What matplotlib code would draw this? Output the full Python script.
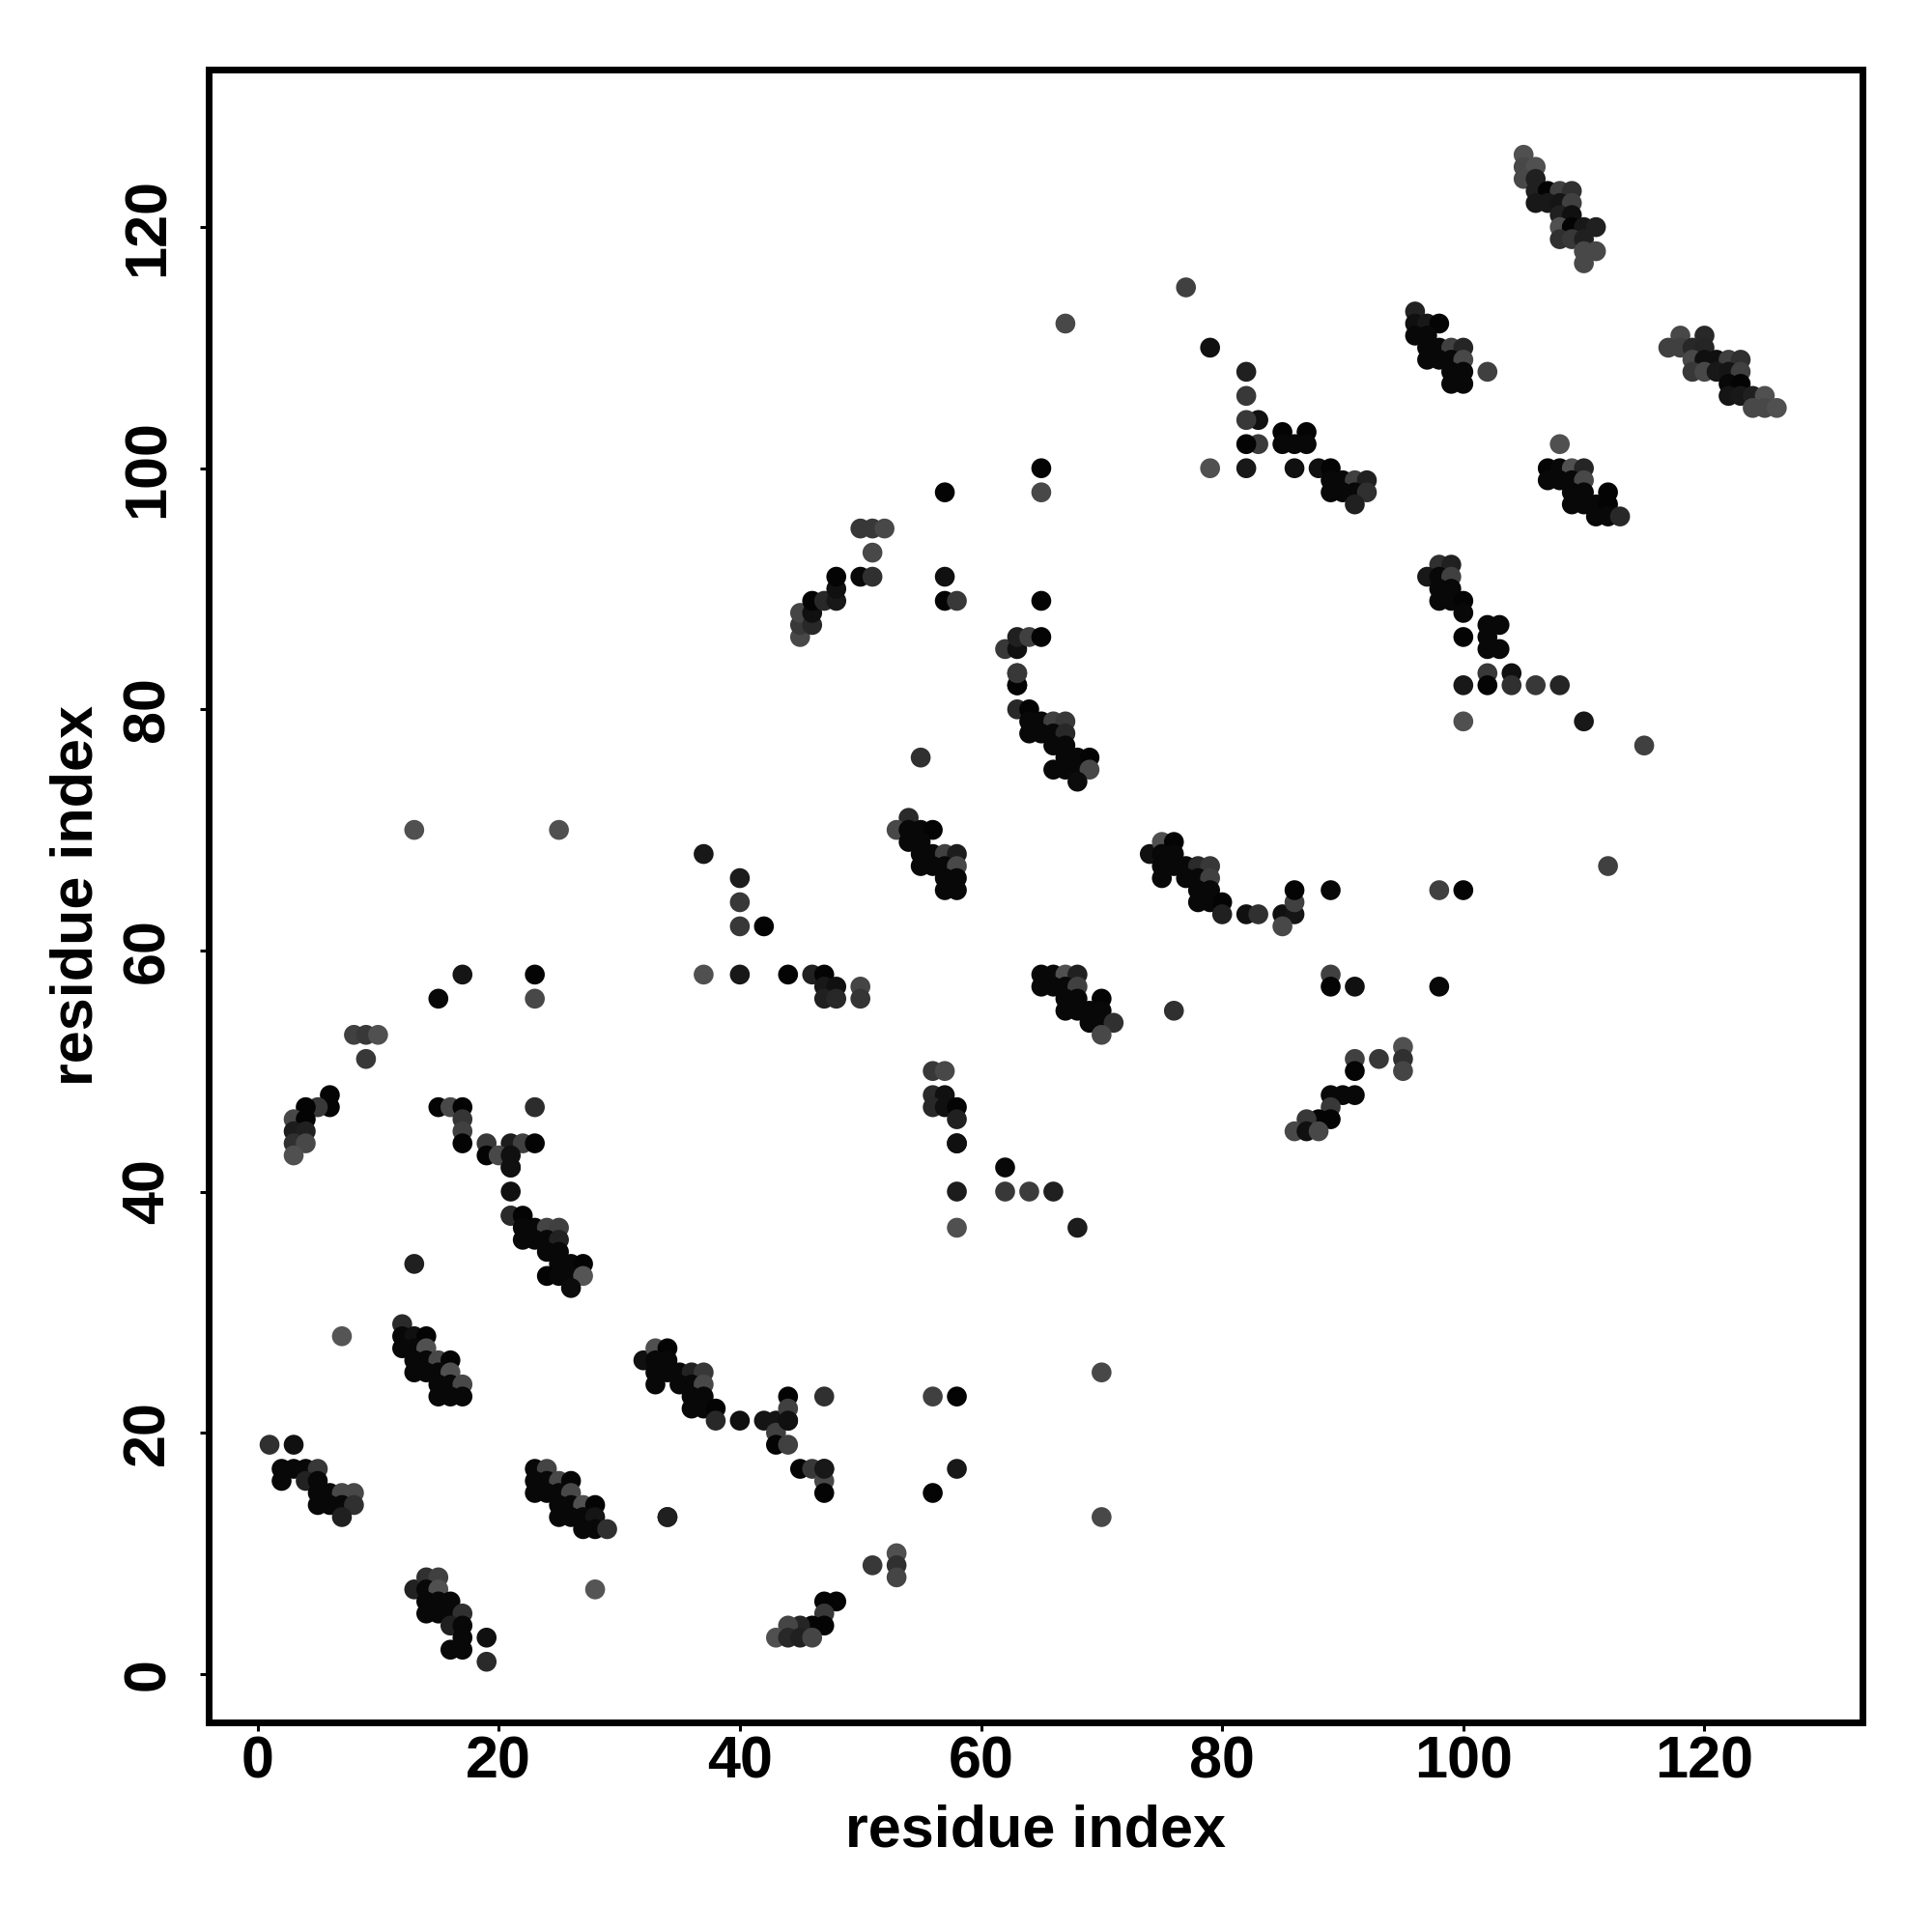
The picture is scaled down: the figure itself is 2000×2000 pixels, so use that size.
# Contact map, residue index vs residue index
import matplotlib
matplotlib.use("Agg")
import matplotlib.pyplot as plt

plt.rcParams["font.family"] = ["Liberation Sans", "DejaVu Sans"]

ticks = [0, 20, 40, 60, 80, 100, 120]
axis_label = "residue index"

x_vals = [
    1, 3, 2, 3, 4, 5, 2, 4, 5, 5, 6, 7, 8, 5, 6, 7, 8, 7,
    7, 13, 12, 12, 13, 14, 12, 13, 14, 13, 14, 15, 16, 13, 14, 15, 16, 15, 16, 17, 15, 16, 17,
    23, 24, 23, 24, 25, 26, 23, 24, 25, 26, 25, 26, 27, 28, 25, 26, 27, 28, 27, 28, 29,
    13, 14, 15, 14, 15, 14, 15, 16, 14, 15, 16, 17, 16, 17, 17, 16, 17, 19, 19, 28, 34,
    21, 21, 21, 21, 22, 22, 23, 24, 25, 22, 23, 24, 25, 24, 25, 25, 26, 27, 24, 25, 26, 27, 26,
    32, 33, 34, 33, 34, 33, 34, 35, 36, 37, 33, 35, 36, 37, 36, 37, 36, 37, 38, 38, 40, 42, 43, 44,
    44, 44, 43, 43, 44, 44, 45, 46, 47, 47, 47, 47, 47, 56, 58, 56, 58, 70, 70, 34,
    51, 53, 53, 53, 47, 48, 47, 47, 46, 45, 44, 43, 44, 45, 46,
    13, 25, 37, 40, 40, 40, 42, 37, 40, 44, 46, 47, 47, 48, 47, 48, 50, 50, 17, 15, 23, 23,
    8, 9, 10, 9, 6, 6, 5, 4, 3, 4, 3, 4, 3, 4, 3,
    15, 16, 17, 17, 17, 17, 23, 19, 21, 22, 23, 19, 20, 21, 21,
    58, 62, 62, 64, 66, 58, 58, 68,
    63, 63, 63, 64, 64, 65, 66, 67, 64, 65, 66, 67, 66, 67, 67, 68, 69, 66, 67, 68, 69, 68, 55,
    54, 53, 54, 55, 56, 54, 55, 55, 56, 57, 58, 55, 56, 57, 58, 57, 58, 57, 58,
    74, 75, 76, 75, 76, 75, 76, 77, 78, 79, 75, 77, 78, 79, 78, 79, 78, 79, 80, 80, 82, 83, 85, 86, 86, 86, 85, 89,
    65, 66, 67, 68, 65, 66, 67, 68, 67, 68, 70, 67, 68, 69, 70, 69, 70, 71, 70, 76, 89, 89, 91,
    56, 57, 56, 57, 56, 57, 58, 58, 58,
    91, 91, 89, 90, 91, 89, 89, 88, 87, 86, 87, 88, 93, 95, 95, 95,
    82, 82, 83, 82, 83, 82, 79, 79, 82, 85, 87, 85, 86, 87, 86, 88, 89, 89, 90, 91, 92, 89, 90, 91, 92, 91,
    98, 99, 97, 98, 99, 98, 99, 98, 99, 100, 100, 100, 102, 103, 102, 102, 103, 102, 104, 100, 102, 104, 106, 108, 100, 110,
    108, 107, 108, 109, 110, 107, 108, 109, 110, 109, 110, 112, 109, 110, 111, 112, 111, 112, 113,
    105, 105, 106, 105, 106, 106, 107, 108, 109, 106, 107, 108, 109, 108, 109, 108, 109, 110, 111, 108, 109, 110, 110, 111, 110,
    96, 96, 97, 98, 96, 97, 97, 98, 99, 100, 97, 98, 99, 100, 99, 100, 99, 100, 102,
    118, 120, 117, 118, 119, 120, 119, 120, 121, 122, 123, 119, 120, 121, 122, 123, 122, 123, 122, 123, 124, 125, 124, 125, 126,
    67, 77, 115, 112, 98, 100, 98, 45, 45, 45, 46, 46, 46, 47, 48, 48, 48, 50, 51, 51, 50, 51, 52,
    57, 65, 65, 57, 57, 58, 65, 62, 63, 63, 64, 65, 63, 63,
]

y_vals = [
    19, 19, 17, 17, 17, 17, 16, 16, 16, 15, 15, 15, 15, 14, 14, 14, 14, 13,
    28, 34, 29, 28, 28, 28, 27, 27, 27, 26, 26, 26, 26, 25, 25, 25, 25, 24, 24, 24, 23, 23, 23,
    17, 17, 16, 16, 16, 16, 15, 15, 15, 15, 14, 14, 14, 14, 13, 13, 13, 13, 12, 12, 12,
    7, 8, 8, 7, 7, 6, 6, 6, 5, 5, 5, 5, 4, 4, 3, 2, 2, 3, 1, 7, 13,
    42, 40, 38, 38, 38, 37, 37, 37, 37, 36, 36, 36, 36, 35, 35, 34, 34, 34, 33, 33, 33, 33, 32,
    26, 27, 27, 26, 26, 25, 25, 25, 25, 25, 24, 24, 24, 24, 23, 23, 22, 22, 22, 21, 21, 21, 21, 21,
    23, 22, 20, 19, 19, 21, 17, 17, 17, 23, 16, 15, 17, 23, 23, 15, 17, 25, 13, 13,
    9, 10, 9, 8, 6, 6, 5, 4, 4, 4, 4, 3, 3, 3, 3,
    70, 70, 68, 66, 64, 62, 62, 58, 58, 58, 58, 58, 57, 57, 56, 56, 57, 56, 58, 56, 58, 56,
    53, 53, 53, 51, 48, 47, 47, 47, 46, 46, 45, 45, 44, 44, 43,
    47, 47, 47, 46, 45, 44, 47, 44, 44, 44, 44, 43, 43, 43, 42,
    40, 42, 40, 40, 40, 44, 37, 37,
    83, 82, 80, 80, 79, 79, 79, 79, 78, 78, 78, 78, 77, 77, 76, 76, 76, 75, 75, 75, 75, 74, 76,
    71, 70, 70, 70, 70, 69, 69, 68, 68, 68, 68, 67, 67, 67, 67, 66, 66, 65, 65,
    68, 69, 69, 68, 68, 67, 67, 67, 67, 67, 66, 66, 66, 66, 65, 65, 64, 64, 64, 63, 63, 63, 63, 63, 64, 65, 62, 65,
    58, 58, 58, 58, 57, 57, 57, 57, 56, 56, 56, 55, 55, 55, 55, 54, 54, 54, 53, 55, 58, 57, 57,
    50, 50, 48, 48, 47, 47, 47, 46, 44,
    51, 50, 48, 48, 48, 47, 46, 46, 46, 45, 45, 45, 51, 52, 51, 50,
    108, 106, 104, 104, 102, 102, 100, 110, 100, 103, 103, 102, 102, 102, 100, 100, 100, 99, 99, 99, 99, 98, 98, 98, 98, 97,
    92, 92, 91, 91, 91, 90, 90, 89, 89, 89, 88, 86, 87, 87, 86, 85, 85, 83, 83, 82, 82, 82, 82, 82, 79, 79,
    102, 100, 100, 100, 100, 99, 99, 99, 99, 98, 98, 98, 97, 97, 97, 97, 96, 96, 96,
    126, 125, 125, 124, 124, 123, 123, 123, 123, 122, 122, 122, 122, 121, 121, 120, 120, 120, 120, 119, 119, 119, 118, 118, 117,
    113, 112, 112, 112, 111, 111, 110, 110, 110, 110, 109, 109, 109, 109, 108, 108, 107, 107, 108,
    111, 111, 110, 110, 110, 110, 109, 109, 109, 109, 109, 108, 108, 108, 108, 108, 107, 107, 106, 106, 106, 106, 105, 105, 105,
    112, 115, 77, 67, 65, 65, 57, 86, 87, 88, 87, 88, 89, 89, 89, 90, 91, 91, 91, 93, 95, 95, 95,
    98, 100, 98, 91, 89, 89, 89, 85, 85, 86, 86, 86, 82, 83,
]

# grey level of every point, 0 is black
grey_vals = [
    48, 16, 8, 8, 8, 56, 8, 34, 8, 8, 8, 72, 72, 8, 8, 8, 48, 32,
    85, 32, 42, 8, 16, 4, 8, 8, 80, 8, 8, 72, 4, 8, 8, 8, 80, 8, 8, 72, 8, 8, 8,
    8, 68, 8, 8, 72, 6, 8, 8, 8, 72, 8, 8, 80, 4, 8, 8, 8, 21, 8, 8, 48,
    34, 48, 64, 8, 80, 8, 8, 8, 8, 8, 8, 48, 32, 8, 8, 8, 8, 16, 42, 85, 32,
    16, 16, 42, 42, 4, 8, 8, 68, 64, 8, 8, 8, 34, 8, 8, 8, 8, 4, 4, 8, 8, 85, 12,
    16, 80, 4, 8, 8, 8, 8, 8, 34, 56, 8, 8, 8, 72, 8, 8, 8, 8, 4, 40, 16, 20, 20, 20,
    4, 64, 64, 4, 64, 16, 4, 56, 56, 48, 72, 4, 24, 64, 4, 4, 24, 72, 72, 32,
    56, 80, 48, 69, 4, 4, 56, 4, 4, 37, 69, 80, 40, 32, 69,
    80, 80, 24, 28, 56, 56, 4, 80, 24, 4, 32, 4, 24, 16, 32, 40, 69, 53, 21, 8, 4, 72,
    64, 56, 80, 56, 4, 4, 56, 4, 72, 4, 28, 32, 48, 72, 80,
    4, 72, 4, 53, 64, 4, 44, 56, 28, 64, 4, 4, 72, 16, 16,
    28, 8, 56, 60, 32, 16, 80, 28,
    56, 4, 40, 4, 8, 8, 64, 56, 8, 8, 8, 40, 8, 8, 8, 8, 4, 8, 8, 8, 72, 12, 48,
    42, 72, 8, 8, 4, 8, 8, 8, 8, 64, 28, 8, 8, 8, 72, 8, 8, 8, 8,
    16, 80, 4, 8, 8, 8, 8, 8, 42, 56, 8, 8, 8, 64, 8, 8, 8, 8, 4, 32, 16, 48, 16, 21, 64, 4, 72, 8,
    8, 8, 80, 32, 8, 8, 8, 64, 8, 8, 4, 8, 8, 8, 8, 8, 8, 48, 72, 48, 64, 4, 16,
    56, 72, 42, 16, 40, 16, 4, 32, 16,
    64, 4, 8, 8, 8, 56, 4, 4, 56, 72, 16, 72, 56, 80, 48, 69,
    32, 56, 16, 56, 58, 4, 80, 16, 24, 4, 4, 8, 8, 8, 16, 16, 4, 8, 8, 64, 32, 8, 8, 8, 48, 32,
    48, 32, 24, 8, 64, 8, 8, 8, 8, 4, 8, 4, 8, 8, 8, 8, 8, 56, 16, 24, 4, 48, 56, 37, 80, 24,
    80, 4, 8, 80, 37, 8, 8, 8, 72, 8, 8, 4, 8, 8, 8, 4, 8, 8, 40,
    80, 72, 80, 72, 32, 32, 4, 64, 48, 24, 24, 21, 64, 32, 16, 80, 4, 24, 32, 48, 56, 32, 72, 72, 72,
    34, 16, 24, 4, 8, 8, 8, 8, 64, 37, 8, 8, 8, 72, 8, 8, 8, 8, 64,
    72, 40, 64, 64, 40, 37, 72, 16, 16, 64, 48, 56, 72, 24, 21, 64, 8, 4, 21, 24, 32, 80, 72, 72, 80,
    72, 64, 64, 64, 64, 4, 8, 72, 56, 69, 40, 16, 4, 40, 24, 16, 4, 8, 48, 72, 56, 56, 72,
    4, 4, 72, 16, 4, 56, 4, 56, 16, 32, 64, 4, 4, 56,
]

fig, ax = plt.subplots(figsize=(10, 10), dpi=200)
colors = [str(g / 255) for g in grey_vals]
ax.scatter(x_vals, y_vals, s=55, c=colors, linewidths=0, zorder=3, clip_on=False)

ax.set_xlim(-4.05, 133.1)
ax.set_ylim(-4.03, 133.07)
ax.set_xticks(ticks)
ax.set_yticks(ticks)
ax.set_xticklabels([str(t) for t in ticks], fontsize=22, fontweight="bold")
ax.set_yticklabels([str(t) for t in ticks], fontsize=22, fontweight="bold",
                   rotation=90, va="center")
ax.tick_params(axis="x", length=3.2, width=1.1, pad=1.8)
ax.tick_params(axis="y", length=3.2, width=1.1, pad=8.8)
for side in ax.spines.values():
    side.set_linewidth(2.5)
ax.set_xlabel(axis_label, fontsize=22, fontweight="bold", labelpad=5)
ax.set_ylabel(axis_label, fontsize=22, fontweight="bold", labelpad=6)

fig.subplots_adjust(left=216 / 2000, right=1928 / 2000, top=1 - 72 / 2000, bottom=1 - 1783 / 2000)
fig.savefig("out.png", dpi=200)
